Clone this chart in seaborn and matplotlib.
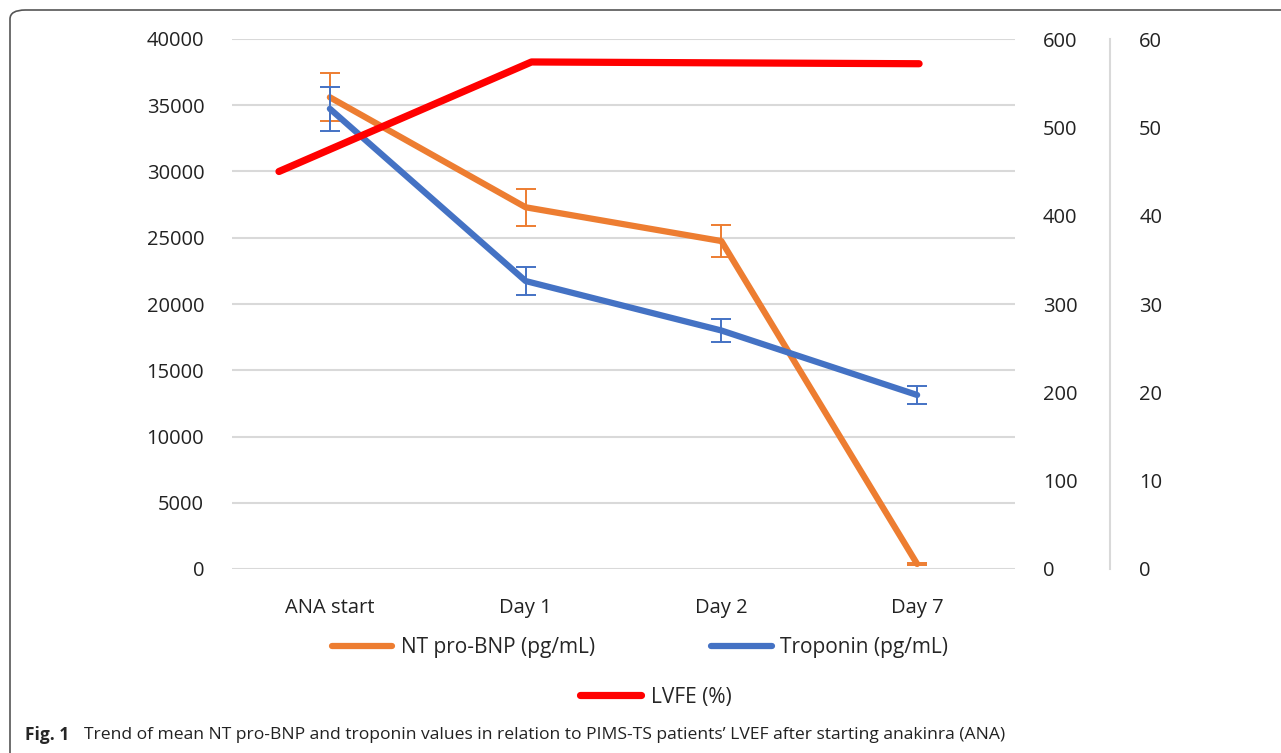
import numpy as np
import pandas as pd
import matplotlib
matplotlib.use('Agg')
import matplotlib.pyplot as plt
from matplotlib.lines import Line2D
from matplotlib.patches import FancyBboxPatch
import seaborn as sns

sns.set_style('white')
plt.rcParams['font.family'] = ['Open Sans', 'DejaVu Sans']

# data
days = ['ANA start', 'Day 1', 'Day 2', 'Day 7']
bnp = [35600, 27300, 24750, 380]
bnp_err = [1800, 1400, 1200, 100]
trop = [521, 326, 270, 197]
trop_err = [25, 16, 13, 10]
lvef_pos = [-0.26, 1.03, 2.0, 3.01]
lvef = [45.0, 57.4, 57.3, 57.2]

ORANGE = '#ED7D31'
BLUE = '#4472C4'
RED = '#FF0000'
GRID = '#D9D9D9'

df = pd.DataFrame({'pos': np.arange(len(days)), 'bnp': bnp, 'bnp_err': bnp_err,
                   'trop': trop, 'trop_err': trop_err})
df_lvef = pd.DataFrame({'pos': lvef_pos, 'lvef': lvef})

fig = plt.figure(figsize=(12.81, 7.53), dpi=100)
ax = fig.add_axes([232/1281, 1-569/753, 783/1281, 530/753])
ax2 = ax.twinx()
ax3 = ax.twinx()

# NT pro-BNP on left axis
sns.lineplot(data=df, x='pos', y='bnp', ax=ax, color=ORANGE, lw=4.5, zorder=3)
ax.errorbar(df['pos'], df['bnp'], yerr=df['bnp_err'], fmt='none', ecolor=ORANGE,
            elinewidth=1.4, capsize=7, capthick=1.4, zorder=4)

# Troponin on first right axis
sns.lineplot(data=df, x='pos', y='trop', ax=ax2, color=BLUE, lw=4.5, zorder=3)
ax2.errorbar(df['pos'], df['trop'], yerr=df['trop_err'], fmt='none', ecolor=BLUE,
             elinewidth=1.4, capsize=7, capthick=1.4, zorder=4)

# LVEF on second right axis
sns.lineplot(data=df_lvef, x='pos', y='lvef', ax=ax3, color=RED, lw=5.2, zorder=3)

ax.set_xlim(-0.5, 3.5)
ax.set_ylim(0, 40000)
ax2.set_ylim(0, 600)
ax3.set_ylim(0, 60)

ax.set_yticks(np.arange(0, 40001, 5000))
ax2.set_yticks(np.arange(0, 601, 100))
ax3.set_yticks(np.arange(0, 61, 10))
ax.set_xticks(range(len(days)))
ax.set_xticklabels(days)

ax.yaxis.grid(True, color=GRID, lw=1.5)
ax.set_axisbelow(True)
for a in (ax, ax2, ax3):
    a.set_xlabel('')
    a.set_ylabel('')
    for s in a.spines.values():
        s.set_visible(False)
    a.tick_params(length=0, labelsize=14.5, colors='#222222')
ax.tick_params(axis='y', pad=20)
ax.tick_params(axis='x', pad=21)
ax2.tick_params(axis='y', pad=20)

ax3.spines['right'].set_visible(True)
ax3.spines['right'].set_position(('axes', (1110-232)/783))
ax3.spines['right'].set_color(GRID)
ax3.spines['right'].set_linewidth(1.5)
ax3.tick_params(axis='y', pad=21)

# legends
h1 = [Line2D([], [], color=ORANGE, lw=4.5), Line2D([], [], color=BLUE, lw=4.5)]
leg1 = fig.legend(h1, ['NT pro-BNP (pg/mL)', 'Troponin (pg/mL)'], ncol=2,
                  loc='center', bbox_to_anchor=(640/1281, 1-648/753), frameon=False,
                  fontsize=15, handlelength=2.9, handletextpad=0.4, columnspacing=5.6)
h2 = [Line2D([], [], color=RED, lw=5.2)]
leg2 = fig.legend(h2, ['LVFE (%)'], loc='center', bbox_to_anchor=(656/1281, 1-697/753),
                  frameon=False, fontsize=15, handlelength=2.9, handletextpad=0.5)

# rounded frame
frame = FancyBboxPatch((10/1281, -0.05), 1.1, 1 - 10/753 + 0.05,
                       boxstyle='round,pad=0,rounding_size=0.012', transform=fig.transFigure,
                       fill=False, ec='#555555', lw=1.2, clip_on=False)
fig.patches.append(frame)

# caption
fig.text(25/1281, 1-735/753, 'Fig. 1', fontsize=12.5, fontweight='bold', va='center')
fig.text(84/1281, 1-735/753,
         "Trend of mean NT pro-BNP and troponin values in relation to PIMS-TS patients\u2019 LVEF after starting anakinra (ANA)",
         fontsize=12.6, va='center', color='#222222')

plt.savefig('out.png', dpi=100)
